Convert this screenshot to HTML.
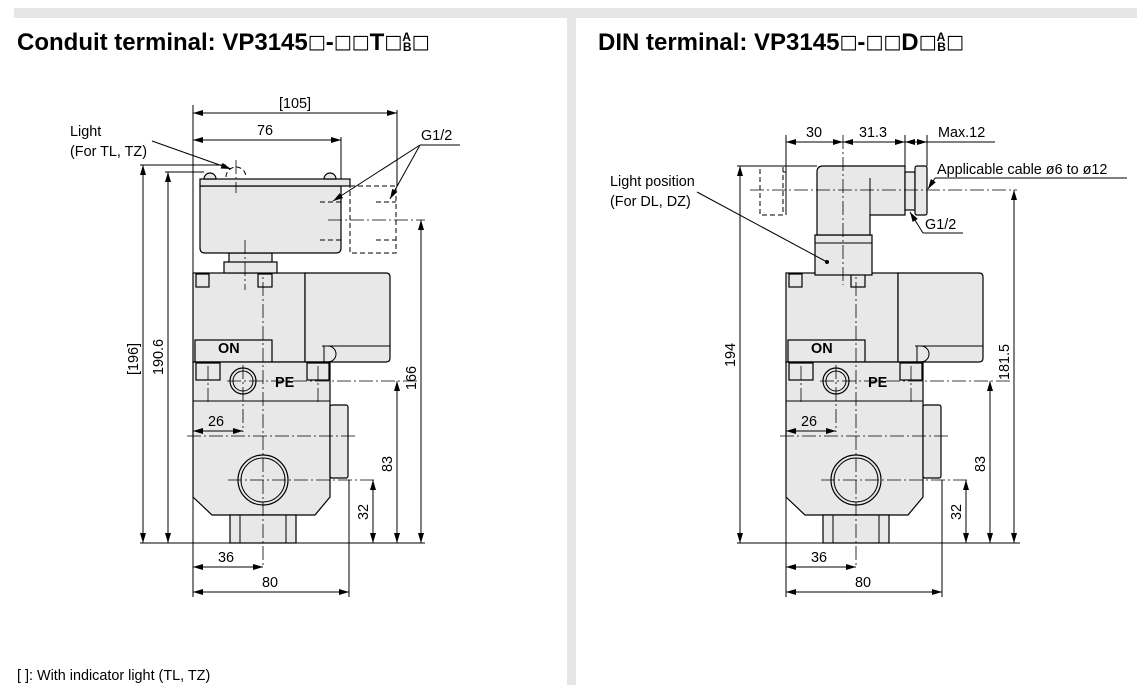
<!DOCTYPE html>
<html><head><meta charset="utf-8"><style>
body{margin:0;background:#fff;}
svg{display:block;font-family:"Liberation Sans",Arial,sans-serif;}
.t{font-size:14.4px;fill:#000}
.h{font-size:24px;font-weight:bold;fill:#000}
.q{font-family:"DejaVu Sans",sans-serif;font-weight:normal;font-size:19px}
.b{fill:#e8e8e8;stroke:#000;stroke-width:1.2}
.l{stroke:#000;stroke-width:1;fill:none}
.c{stroke:#000;stroke-width:0.8;fill:none;stroke-dasharray:14 3 2 3}
.d{stroke:#000;stroke-width:1;fill:none;stroke-dasharray:5 3}
</style></head><body>
<svg width="1137" height="697" viewBox="0 0 1137 697">
<defs>
<marker id="a" viewBox="0 0 10 6" refX="10" refY="3" markerWidth="10" markerHeight="6" orient="auto-start-reverse" markerUnits="userSpaceOnUse"><path d="M0,0L10,3L0,6z"/></marker>
<g id="body">
  <rect class="b" x="193" y="273" width="112" height="89"/>
  <path class="b" d="M305,273H386Q390,273 390,277V358Q390,362 386,362H305Z"/>
  <rect class="b" x="195" y="340" width="77" height="22"/>
  <line class="l" x1="322" y1="346" x2="390" y2="346"/>
  <path class="l" d="M324,346h4a8,8 0 0 1 0,16h-4z"/>
  <rect class="b" x="196" y="274" width="13" height="13"/>
  <rect class="b" x="258" y="274" width="14" height="13"/>
  <path class="b" d="M193,362H330V497L315,515H212L193,497Z"/>
  <rect class="b" x="330" y="405" width="18" height="73" rx="2"/>
  <rect class="b" x="230" y="515" width="66" height="28"/>
  <line class="l" x1="240" y1="515" x2="240" y2="543"/><line class="l" x1="286" y1="515" x2="286" y2="543"/>
  <rect class="b" x="196" y="363" width="24" height="17"/>
  <rect class="b" x="307" y="363" width="22" height="17"/>
  <line class="l" x1="193" y1="401" x2="330" y2="401"/>
  <circle class="b" cx="263" cy="480" r="25"/><circle class="l" cx="263" cy="480" r="22"/>
  <circle class="b" cx="243" cy="381" r="13"/><circle class="l" cx="243" cy="381" r="10"/>
  <text class="t" x="218" y="353" font-weight="bold">ON</text>
  <text class="t" x="275" y="387" font-weight="bold">PE</text>
  <line class="c" x1="263" y1="260" x2="263" y2="568"/>
  <line class="c" x1="187" y1="436" x2="356" y2="436"/>
  <line class="c" x1="228" y1="480" x2="375" y2="480"/>
  <line class="c" x1="227" y1="381" x2="420" y2="381"/>
  <line class="c" x1="243" y1="365" x2="243" y2="432"/>
  <line class="c" x1="208" y1="366" x2="208" y2="405"/>
  <line class="c" x1="318" y1="366" x2="318" y2="405"/>
  <line class="l" x1="193" y1="273" x2="193" y2="597"/>
  <line class="l" x1="349" y1="480" x2="349" y2="597"/>
  <line class="l" x1="193" y1="431" x2="243" y2="431" marker-start="url(#a)" marker-end="url(#a)"/>
  <text class="t" x="208" y="426">26</text>
  <line class="l" x1="193" y1="567" x2="263" y2="567" marker-start="url(#a)" marker-end="url(#a)"/>
  <text class="t" x="218" y="562">36</text>
  <line class="l" x1="193" y1="592" x2="349" y2="592" marker-start="url(#a)" marker-end="url(#a)"/>
  <text class="t" x="262" y="587">80</text>
  <line class="l" x1="397" y1="381" x2="397" y2="543" marker-start="url(#a)" marker-end="url(#a)"/>
  <text class="t" transform="translate(392,472) rotate(-90)">83</text>
  <line class="l" x1="373" y1="480" x2="373" y2="543" marker-start="url(#a)" marker-end="url(#a)"/>
  <text class="t" transform="translate(368,520) rotate(-90)">32</text>
</g>
</defs>
<rect x="14" y="8" width="1123" height="10" fill="#e6e6e6"/>
<rect x="567" y="18" width="9" height="667" fill="#e6e6e6"/>
<text class="h" x="17" y="50">Conduit terminal: VP3145<tspan class="q" baseline-shift="2">□</tspan>-<tspan class="q" baseline-shift="2">□□</tspan>T<tspan class="q" baseline-shift="2">□</tspan><tspan font-size="12" dy="-9">A</tspan><tspan font-size="12" dx="-8" dy="10">B</tspan><tspan class="q" dy="-1" baseline-shift="2">□</tspan></text>
<text class="h" x="598" y="50">DIN terminal: VP3145<tspan class="q" baseline-shift="2">□</tspan>-<tspan class="q" baseline-shift="2">□□</tspan>D<tspan class="q" baseline-shift="2">□</tspan><tspan font-size="12" dy="-9">A</tspan><tspan font-size="12" dx="-8" dy="10">B</tspan><tspan class="q" dy="-1" baseline-shift="2">□</tspan></text>

<use href="#body"/>
<rect class="b" x="229" y="253" width="43" height="16"/>
<rect class="b" x="224" y="262" width="53" height="11"/>
<rect class="d" x="350" y="186" width="46" height="67"/>
<path class="b" d="M200,186H341V248Q341,253 336,253H205Q200,253 200,248Z"/>
<rect class="b" x="200" y="179" width="150" height="7"/>
<path class="b" d="M204,179a6,6 0 0 1 12,0z"/><path class="b" d="M324,179a6,6 0 0 1 12,0z"/>
<path class="d" d="M226,177a10,10 0 0 1 20,0"/>
<line class="c" x1="236" y1="160" x2="236" y2="193"/>
<line class="c" x1="245" y1="240" x2="245" y2="290"/>
<line class="d" x1="320" y1="202" x2="341" y2="202"/><line class="d" x1="320" y1="240" x2="341" y2="240"/>
<line class="d" x1="376" y1="202" x2="396" y2="202"/><line class="d" x1="376" y1="240" x2="396" y2="240"/>
<line class="c" x1="328" y1="220" x2="425" y2="220"/>
<line class="l" x1="193" y1="105" x2="193" y2="273"/>
<line class="l" x1="341" y1="137" x2="341" y2="179"/>
<line class="l" x1="397" y1="110" x2="397" y2="186"/>
<line class="l" x1="193" y1="113" x2="397" y2="113" marker-start="url(#a)" marker-end="url(#a)"/>
<text class="t" x="279" y="108">[105]</text>
<line class="l" x1="193" y1="140" x2="341" y2="140" marker-start="url(#a)" marker-end="url(#a)"/>
<text class="t" x="257" y="135">76</text>
<line class="l" x1="140" y1="543" x2="425" y2="543"/>
<line class="l" x1="140" y1="165" x2="226" y2="165"/>
<line class="l" x1="165" y1="172" x2="204" y2="172"/>
<line class="l" x1="143" y1="165" x2="143" y2="543" marker-start="url(#a)" marker-end="url(#a)"/>
<text class="t" transform="translate(138,375) rotate(-90)">[196]</text>
<line class="l" x1="168" y1="172" x2="168" y2="543" marker-start="url(#a)" marker-end="url(#a)"/>
<text class="t" transform="translate(163,375) rotate(-90)">190.6</text>
<line class="l" x1="421" y1="220" x2="421" y2="543" marker-start="url(#a)" marker-end="url(#a)"/>
<text class="t" transform="translate(416,390) rotate(-90)">166</text>
<text class="t" x="421" y="140">G1/2</text>
<line class="l" x1="420" y1="145" x2="460" y2="145"/>
<line class="l" x1="420" y1="145" x2="333" y2="201" marker-end="url(#a)"/>
<line class="l" x1="420" y1="145" x2="390" y2="199" marker-end="url(#a)"/>
<text class="t" x="70" y="136">Light</text>
<text class="t" x="70" y="156">(For TL, TZ)</text>
<line class="l" x1="152" y1="141" x2="231" y2="169" marker-end="url(#a)"/>
<text class="t" x="17" y="680">[ ]: With indicator light (TL, TZ)</text>

<use href="#body" transform="translate(593,0)"/>
<rect class="b" x="815" y="235" width="57" height="40"/>
<line class="l" x1="815" y1="243" x2="872" y2="243"/>
<path class="b" d="M817,235V172Q817,166 823,166H905V215H870V235Z"/>
<line class="l" x1="870" y1="178" x2="870" y2="215"/>
<rect class="b" x="905" y="172" width="10" height="38"/>
<rect class="b" x="915" y="166" width="12" height="49" rx="2"/>
<rect class="d" x="760" y="166" width="23" height="49"/>
<line class="d" x1="783" y1="172" x2="786" y2="172"/>
<line class="l" x1="786" y1="166" x2="786" y2="215"/>
<line class="c" x1="843" y1="135" x2="843" y2="285"/>
<line class="c" x1="750" y1="190" x2="1017" y2="190"/>
<line class="l" x1="786" y1="135" x2="786" y2="166"/>
<line class="l" x1="905" y1="135" x2="905" y2="166"/>
<line class="l" x1="927" y1="135" x2="927" y2="166"/>
<line class="l" x1="786" y1="142" x2="843" y2="142" marker-start="url(#a)" marker-end="url(#a)"/>
<text class="t" x="806" y="137">30</text>
<line class="l" x1="843" y1="142" x2="905" y2="142" marker-start="url(#a)" marker-end="url(#a)"/>
<text class="t" x="859" y="137">31.3</text>
<line class="l" x1="905" y1="142" x2="927" y2="142" marker-start="url(#a)" marker-end="url(#a)"/>
<line class="l" x1="927" y1="142" x2="995" y2="142"/>
<text class="t" x="938" y="137">Max.12</text>
<line class="l" x1="737" y1="166" x2="817" y2="166"/>
<line class="l" x1="737" y1="543" x2="1020" y2="543"/>
<line class="l" x1="740" y1="166" x2="740" y2="543" marker-start="url(#a)" marker-end="url(#a)"/>
<text class="t" transform="translate(735,367) rotate(-90)">194</text>
<line class="l" x1="1014" y1="190" x2="1014" y2="543" marker-start="url(#a)" marker-end="url(#a)"/>
<text class="t" transform="translate(1009,380) rotate(-90)">181.5</text>
<text class="t" x="937" y="174">Applicable cable ø6 to ø12</text>
<line class="l" x1="935" y1="178" x2="1127" y2="178"/>
<line class="l" x1="935" y1="178" x2="928" y2="189" marker-end="url(#a)"/>
<text class="t" x="925" y="229">G1/2</text>
<line class="l" x1="923" y1="233" x2="963" y2="233"/>
<line class="l" x1="923" y1="233" x2="910" y2="212" marker-end="url(#a)"/>
<text class="t" x="610" y="186">Light position</text>
<text class="t" x="610" y="206">(For DL, DZ)</text>
<line class="l" x1="697" y1="192" x2="827" y2="262"/>
<circle cx="827" cy="262" r="2"/>
</svg>
</body></html>
